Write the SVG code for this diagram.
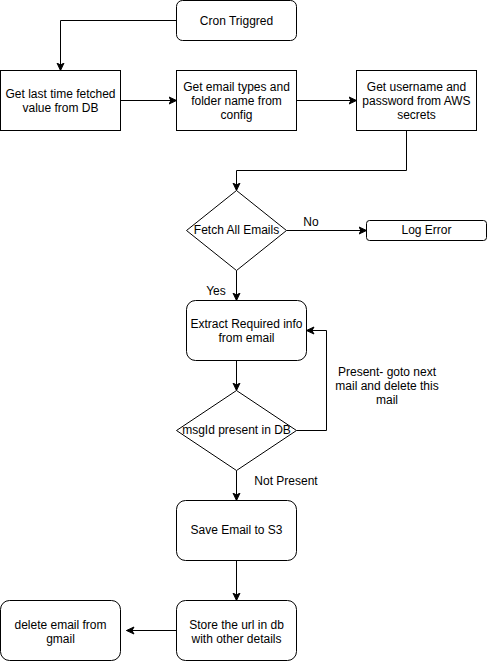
<svg xmlns="http://www.w3.org/2000/svg" width="487" height="661" viewBox="0 0 487 661">
  <style>
    .box { fill: #ffffff; stroke: #000000; stroke-width: 1; }
    .edge { fill: none; stroke: #000000; stroke-width: 1; }
    text { font-family: "Liberation Sans", Arial, Helvetica, sans-serif; font-size: 12px; fill: #000000; text-anchor: middle; }
  </style>
  <defs>
    <marker id="arrow" markerUnits="userSpaceOnUse" markerWidth="9" markerHeight="9" viewBox="0 0 9 9" refX="8" refY="4.5" orient="auto">
      <path d="M 8 4.5 L 0.5 1 L 2.5 4.5 L 0.5 8 Z" fill="#000000" stroke="#000000" stroke-width="1"/>
    </marker>
  </defs>
  <rect width="487" height="661" fill="#ffffff"/>

  <!-- connectors -->
  <g id="edges">
    <path class="edge" d="M 176.5 20.5 L 60.5 20.5 L 60.5 70.5" marker-end="url(#arrow)"/>
    <path class="edge" d="M 120.5 100.5 L 176.5 100.5" marker-end="url(#arrow)"/>
    <path class="edge" d="M 296.5 100.5 L 356.5 100.5" marker-end="url(#arrow)"/>
    <path class="edge" d="M 406.5 130.5 L 406.5 170.5 L 236.5 170.5 L 236.5 190.5" marker-end="url(#arrow)"/>
    <path class="edge" d="M 286.5 230.5 L 366.5 230.5" marker-end="url(#arrow)"/>
    <path class="edge" d="M 236.5 270.5 L 236.5 300.5" marker-end="url(#arrow)"/>
    <path class="edge" d="M 236.5 360.5 L 236.5 390.5" marker-end="url(#arrow)"/>
    <path class="edge" d="M 296.5 430.5 L 326.5 430.5 L 326.5 330.5 L 306.5 330.5" marker-end="url(#arrow)"/>
    <path class="edge" d="M 236.5 470.5 L 236.5 500.5" marker-end="url(#arrow)"/>
    <path class="edge" d="M 236.5 560.5 L 236.5 600.5" marker-end="url(#arrow)"/>
    <path class="edge" d="M 176.5 630.5 L 126.5 630.5" marker-end="url(#arrow)"/>
    <text x="311" y="226">No</text>
    <text x="216" y="295">Yes</text>
    <text x="387" y="376">Present- goto next</text>
    <text x="387" y="390">mail and delete this</text>
    <text x="387" y="404">mail</text>
    <text x="286" y="485">Not Present</text>
  </g>

  <g id="cron">
    <rect class="box" x="176.5" y="0.5" width="120" height="40" rx="6" ry="6"/>
    <text x="236.5" y="25">Cron Triggred</text>
  </g>
  <g id="last-fetched">
    <rect class="box" x="0.5" y="70.5" width="120" height="60"/>
    <text x="60.5" y="98">Get last time fetched</text>
    <text x="60.5" y="112">value from DB</text>
  </g>
  <g id="email-types">
    <rect class="box" x="176.5" y="70.5" width="120" height="60"/>
    <text x="236.5" y="91">Get email types and</text>
    <text x="236.5" y="105">folder name from</text>
    <text x="236.5" y="119">config</text>
  </g>
  <g id="aws-secrets">
    <rect class="box" x="356.5" y="70.5" width="120" height="60"/>
    <text x="416.5" y="91">Get username and</text>
    <text x="416.5" y="105">password from AWS</text>
    <text x="416.5" y="119">secrets</text>
  </g>
  <g id="fetch-all">
    <path class="box" d="M 236.5 190.5 L 286.5 230.5 L 236.5 270.5 L 186.5 230.5 Z"/>
    <text x="236.5" y="234">Fetch All Emails</text>
  </g>
  <g id="log-error">
    <rect class="box" x="366.5" y="220.5" width="120" height="20" rx="3" ry="3"/>
    <text x="426.5" y="234">Log Error</text>
  </g>
  <g id="extract">
    <rect class="box" x="186.5" y="300.5" width="120" height="60" rx="9" ry="9"/>
    <text x="246.5" y="328">Extract Required info</text>
    <text x="246.5" y="342">from email</text>
  </g>
  <g id="msgid-check">
    <path class="box" d="M 236.5 390.5 L 296.5 430.5 L 236.5 470.5 L 176.5 430.5 Z"/>
    <text x="236.5" y="434">msgId present in DB</text>
  </g>
  <g id="save-s3">
    <rect class="box" x="176.5" y="500.5" width="120" height="60" rx="9" ry="9"/>
    <text x="236.5" y="534">Save Email to S3</text>
  </g>
  <g id="store-url">
    <rect class="box" x="176.5" y="600.5" width="120" height="60" rx="9" ry="9"/>
    <text x="236.5" y="629">Store the url in db</text>
    <text x="236.5" y="643">with other details</text>
  </g>
  <g id="delete-email">
    <rect class="box" x="0.5" y="600.5" width="120" height="60" rx="9" ry="9"/>
    <text x="60.5" y="629">delete email from</text>
    <text x="60.5" y="643">gmail</text>
  </g>
</svg>
